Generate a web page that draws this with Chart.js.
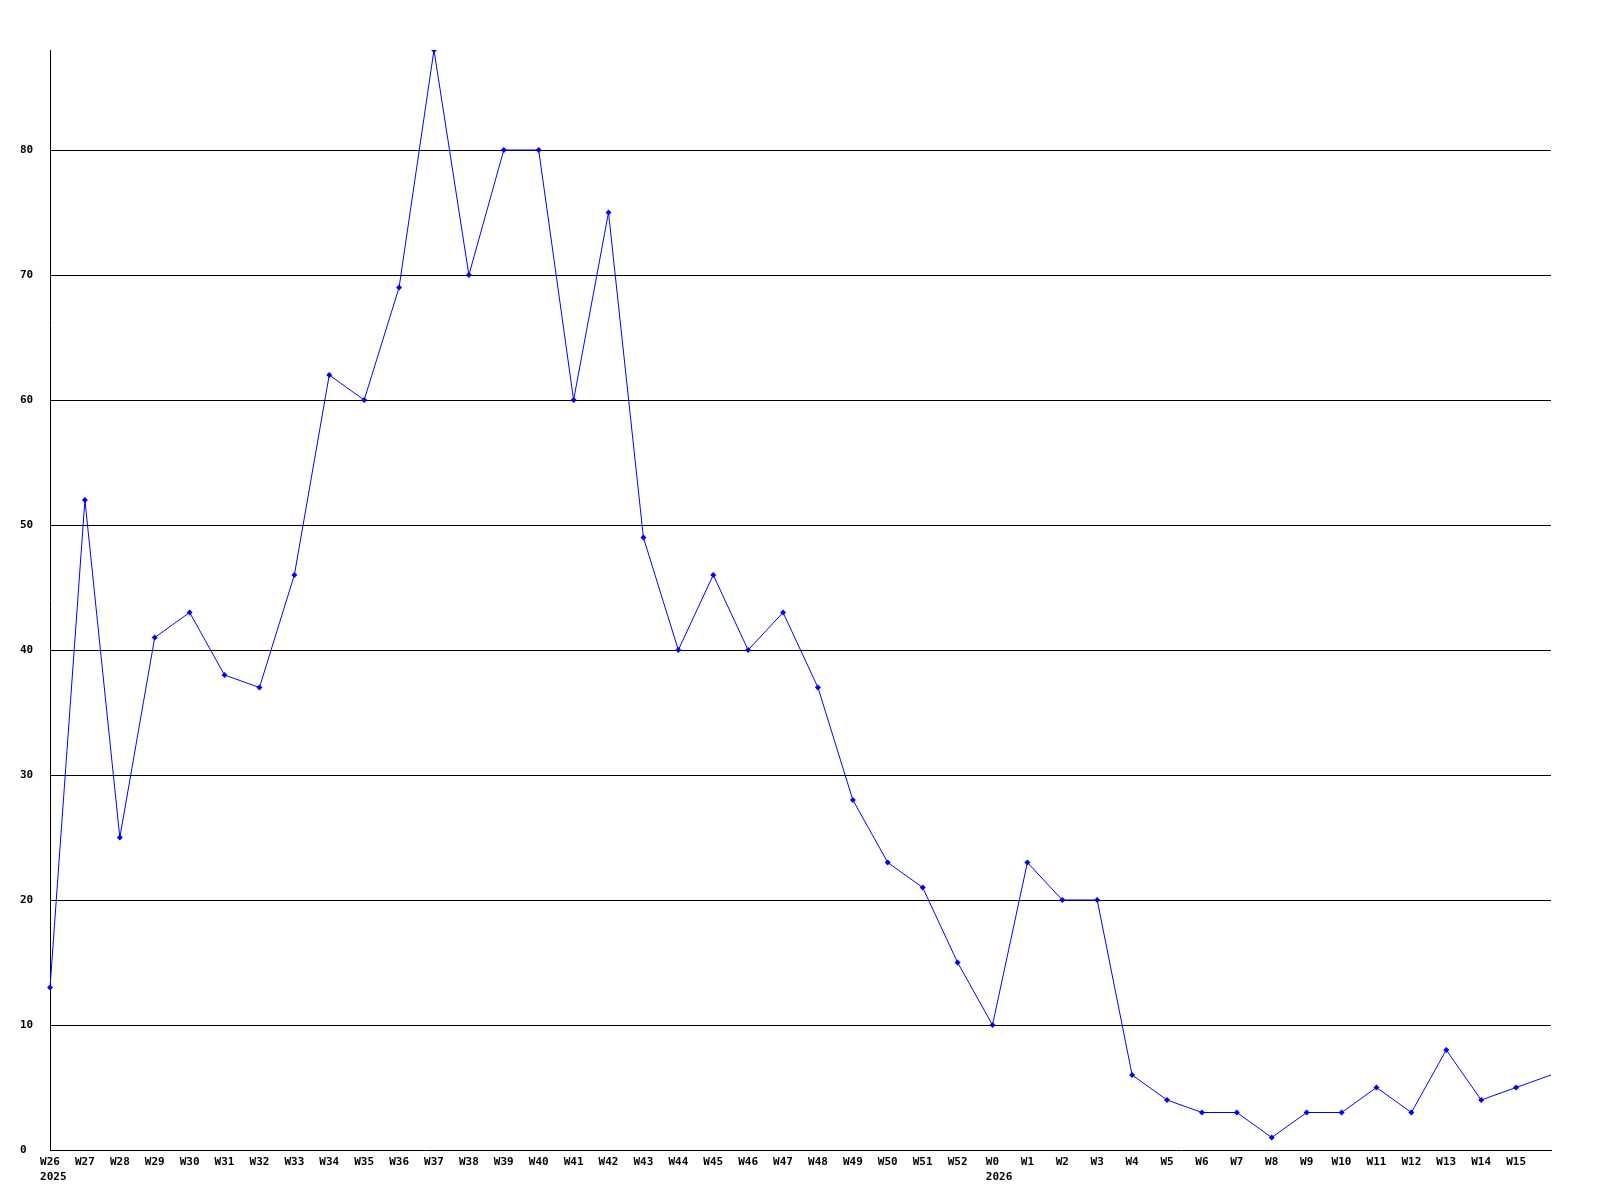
<!DOCTYPE html>
<html>
<head>
<meta charset="utf-8">
<script src="https://cdn.jsdelivr.net/npm/chart.js@4.4.1/dist/chart.umd.min.js"></script>
<style>
  html, body { margin: 0; padding: 0; background: #ffffff; }
  #grafico { display: block; }
</style>
</head>
<body>
<canvas id="grafico" width="1600" height="1200"></canvas>
<script>
// semanas (la ultima, W16, queda en el borde derecho sin etiqueta)
const semanas = ['W26', 'W27', 'W28', 'W29', 'W30', 'W31', 'W32', 'W33', 'W34', 'W35',
    'W36', 'W37', 'W38', 'W39', 'W40', 'W41', 'W42', 'W43', 'W44', 'W45',
    'W46', 'W47', 'W48', 'W49', 'W50', 'W51', 'W52', 'W0', 'W1', 'W2',
    'W3', 'W4', 'W5', 'W6', 'W7', 'W8', 'W9', 'W10', 'W11', 'W12',
    'W13', 'W14', 'W15', 'W16'];
const valores = [13, 52, 25, 41, 43, 38, 37, 46, 62, 60,
    69, 88, 70, 80, 80, 60, 75, 49, 40, 46,
    40, 43, 37, 28, 23, 21, 15, 10, 23, 20,
    20, 6, 4, 3, 3, 1, 3, 3, 5, 3,
    8, 4, 5, 6];
const anios = ['2025', '2026'];
const inicioAnio = ['W26', 'W0'];
const marcasY = [0, 10, 20, 30, 40, 50, 60, 70, 80];

const fuente = { family: "'DejaVu Sans Mono', monospace", size: 11, weight: 'bold' };

// etiquetas de año debajo de la semana donde empieza
const etiquetasAnio = {
    id: 'etiquetasAnio',
    afterDraw(chart) {
        const ctx = chart.ctx;
        const x = chart.scales.x;
        ctx.save();
        ctx.font = 'bold 11px "DejaVu Sans Mono", monospace';
        ctx.fillStyle = '#000000';
        ctx.textAlign = 'left';
        ctx.textBaseline = 'middle';
        for (let i = 0; i < anios.length; i++) {
            const idx = semanas.indexOf(inicioAnio[i]);
            const px = x.getPixelForValue(idx);
            const ancho = ctx.measureText(inicioAnio[i]).width;
            ctx.fillText(anios[i], px - ancho / 2, 1177);
        }
        ctx.restore();
    }
};

document.addEventListener('DOMContentLoaded', function () {
    var ctx = document.getElementById('grafico').getContext('2d');

    var grafico = new Chart(ctx, {
        type: 'line',
        data: {
            labels: semanas,
            datasets: [{
                data: valores,
                borderColor: '#0000ff',
                backgroundColor: '#0000ff',
                borderWidth: 1,
                tension: 0,
                pointStyle: 'rectRot',
                pointRadius: valores.map((v, i) => i === valores.length - 1 ? 0 : 3),
                pointBorderWidth: 0,
                fill: false
            }]
        },
        options: {
            responsive: false,
            animation: false,
            layout: { padding: { left: 20, right: 49, top: 50, bottom: 0 } },
            plugins: {
                legend: { display: false },
                tooltip: { enabled: false }
            },
            scales: {
                x: {
                    offset: false,
                    afterFit: function (scale) { scale.height = 50; },
                    grid: { color: 'transparent', drawTicks: false },
                    border: { display: true, color: '#000000', width: 1 },
                    ticks: {
                        color: '#000000',
                        font: fuente,
                        padding: 6,
                        autoSkip: false,
                        maxRotation: 0,
                        callback: function (val, index) {
                            return index === semanas.length - 1 ? '' : semanas[index];
                        }
                    }
                },
                y: {
                    min: 0,
                    max: 88,
                    z: 1,
                    afterFit: function (scale) { scale.width = 30; },
                    afterBuildTicks: function (scale) {
                        scale.ticks = marcasY.map(v => ({ value: v }));
                    },
                    grid: {
                        drawTicks: false,
                        color: function (c) {
                            return c.tick && c.tick.value > 0 ? '#000000' : 'transparent';
                        },
                        lineWidth: 1
                    },
                    border: { display: true, color: '#000000', width: 1 },
                    ticks: {
                        color: '#000000',
                        font: fuente,
                        crossAlign: 'far',
                        padding: 0
                    }
                }
            }
        },
        plugins: [etiquetasAnio]
    });
});
</script>
</body>
</html>
